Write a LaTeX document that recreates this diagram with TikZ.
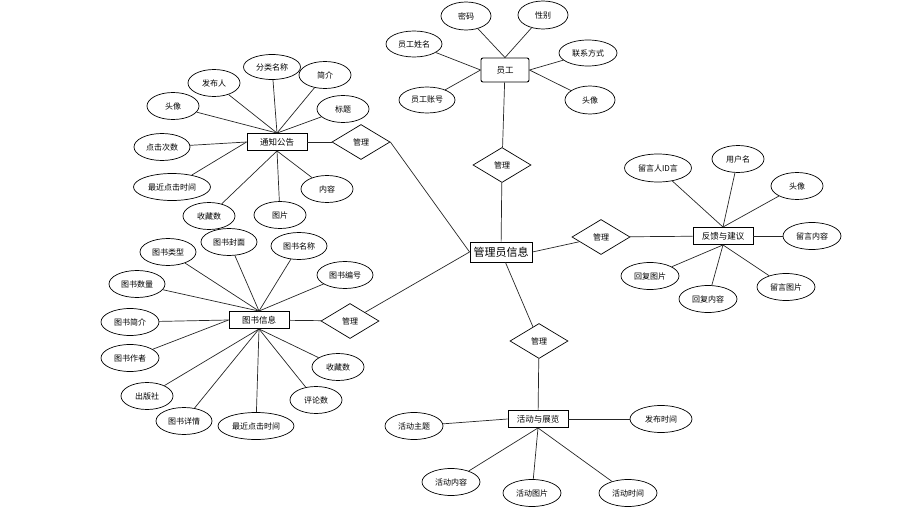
\documentclass[tikz,border=0pt]{standalone}
\usepackage{fontspec}
\setmainfont{Noto Sans CJK SC}
\usetikzlibrary{shapes.geometric}
\tikzset{
  attr/.style={ellipse, draw, line width=0.7pt, fill=white, minimum width=52pt, minimum height=27pt, inner sep=0pt, font=\fontsize{8}{10}\selectfont},
  entity/.style={rectangle, draw, line width=0.9pt, fill=white, minimum width=60pt, minimum height=17pt, inner sep=1pt, font=\fontsize{8.5}{10}\selectfont},
  relation/.style={diamond, draw, line width=0.7pt, fill=white, minimum width=58pt, minimum height=35pt, inner sep=0pt, aspect=1.7, font=\fontsize{8}{10}\selectfont},
  link/.style={line width=0.7pt, black!85}
}

\begin{document}
\begin{tikzpicture}[x=1pt, y=-1pt]
  \useasboundingbox (0,0) rectangle (900,522);

  % centre
  \node[entity, minimum width=62pt, minimum height=20pt, font=\fontsize{11}{12}\selectfont] (admin) at (501,252) {管理员信息};

  % staff
  \node[entity, rounded corners=2pt, minimum width=48pt, minimum height=24pt] (staff) at (505,70) {员工};
  \node[attr, minimum width=50pt, minimum height=28pt] (s1) at (466,16) {密码};
  \node[attr, minimum width=50pt, minimum height=28pt] (s2) at (543,15) {性别};
  \node[attr, minimum width=56pt, minimum height=26pt] (s3) at (414,44) {员工姓名};
  \node[attr, minimum width=58pt, minimum height=26pt] (s4) at (588,53) {联系方式};
  \node[attr, minimum width=56pt, minimum height=26pt] (s5) at (427,100) {员工账号};
  \node[attr, minimum width=50pt, minimum height=28pt] (s6) at (590,100) {头像};
  \node[relation] (rstaff) at (502,165) {管理};
  \foreach \a/\p in {s1/north,s2/north,s3/west,s4/east,s5/west,s6/east}
    \draw[link] (staff.\p) -- (\a);
  \draw[link] (staff) -- (rstaff);
  \draw[link] (rstaff) -- (admin);

  % notices
  \node[entity] (notice) at (277,142) {通知公告};
  \node[attr, minimum width=57pt, minimum height=25pt] (n1) at (272,67) {分类名称};
  \node[attr] (n2) at (325,75) {简介};
  \node[attr] (n3) at (214,83) {发布人};
  \node[attr] (n4) at (343,109) {标题};
  \node[attr] (n5) at (173,106) {头像};
  \node[attr, minimum width=56pt] (n6) at (162,147) {点击次数};
  \node[attr, minimum width=77pt] (n7) at (172,187) {最近点击时间};
  \node[attr] (n8) at (209,216) {收藏数};
  \node[attr] (n9) at (280,215) {图片};
  \node[attr] (n10) at (327,189) {内容};
  \node[relation] (rnotice) at (361,142) {管理};
  \foreach \a/\p in {n1/north,n2/north,n3/north,n4/north,n5/north,n6/west,n7/west,n8/south,n9/south,n10/south}
    \draw[link] (notice.\p) -- (\a);
  \draw[link] (notice) -- (rnotice);
  \draw[link] (rnotice.east) -- (admin.west);

  % books
  \node[entity] (book) at (259,320) {图书信息};
  \node[attr, minimum width=56pt] (b1) at (168,252) {图书类型};
  \node[attr, minimum width=56pt] (b2) at (229,242) {图书封面};
  \node[attr, minimum width=56pt] (b3) at (299,246) {图书名称};
  \node[attr, minimum width=56pt] (b4) at (345,275) {图书编号};
  \node[attr, minimum width=56pt] (b5) at (137,284) {图书数量};
  \node[attr, minimum width=58pt] (b6) at (130,322) {图书简介};
  \node[attr, minimum width=58pt] (b7) at (130,358) {图书作者};
  \node[attr] (b8) at (147,396) {出版社};
  \node[attr, minimum width=56pt] (b9) at (184,421) {图书详情};
  \node[attr, minimum width=76pt] (b10) at (256,426) {最近点击时间};
  \node[attr] (b11) at (316,400) {评论数};
  \node[attr] (b12) at (338,367) {收藏数};
  \node[relation] (rbook) at (350,321) {管理};
  \foreach \a/\p in {b1/north,b2/north,b3/north,b4/north,b5/north,b6/west,b7/west,b8/south,b9/south,b10/south,b11/south,b12/south}
    \draw[link] (book.\p) -- (\a);
  \draw[link] (book) -- (rbook);
  \draw[link] (rbook) -- (admin.west);

  % feedback
  \node[entity] (feedback) at (723,236) {反馈与建议};
  \node[attr, minimum width=67pt, minimum height=28pt] (f1) at (658,168) {留言人ID言};
  \node[attr] (f2) at (738,159) {用户名};
  \node[attr] (f3) at (797,186) {头像};
  \node[attr, minimum width=58pt] (f4) at (812,236) {留言内容};
  \node[attr, minimum width=58pt] (f5) at (786,287) {留言图片};
  \node[attr, minimum width=58pt] (f6) at (708,299) {回复内容};
  \node[attr, minimum width=58pt] (f7) at (650,276) {回复图片};
  \node[relation] (rfeedback) at (601,237) {管理};
  \foreach \a/\p in {f1/north,f2/north,f3/north,f4/east,f5/south,f6/south,f7/south}
    \draw[link] (feedback.\p) -- (\a);
  \draw[link] (feedback) -- (rfeedback);
  \draw[link] (rfeedback) -- (admin.east);

  % events
  \node[entity] (event) at (538,419) {活动与展览};
  \node[attr, minimum width=58pt] (e1) at (414,426) {活动主题};
  \node[attr, minimum width=62pt] (e2) at (661,419) {发布时间};
  \node[attr, minimum width=58pt] (e3) at (451,482) {活动内容};
  \node[attr, minimum width=58pt] (e4) at (532,493) {活动图片};
  \node[attr, minimum width=58pt] (e5) at (628,493) {活动时间};
  \node[relation] (revent) at (539,341) {管理};
  \foreach \a/\p in {e1/west,e2/east,e3/south,e4/south,e5/south}
    \draw[link] (event.\p) -- (\a);
  \draw[link] (event) -- (revent);
  \draw[link] (revent) -- (admin);
\end{tikzpicture}
\end{document}
